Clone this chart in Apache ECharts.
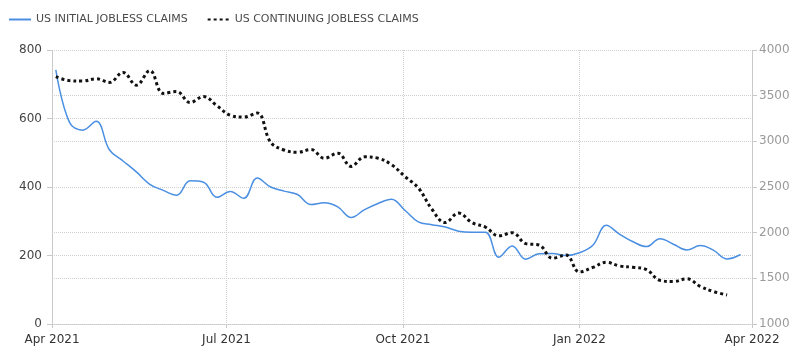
<!DOCTYPE html>
<html>
<head>
<meta charset="utf-8">
<script src="https://cdn.jsdelivr.net/npm/echarts@6/dist/echarts.min.js"></script>
<style>
html,body{margin:0;padding:0;background:#fff;}
#chart{width:800px;height:357px;}
</style>
</head>
<body>
<div id="chart"></div>
<script>
// Week-ending dates
var weekDates = [
 '2021-04-03','2021-04-10','2021-04-17','2021-04-24','2021-05-01','2021-05-08','2021-05-15','2021-05-22','2021-05-29',
 '2021-06-05','2021-06-12','2021-06-19','2021-06-26','2021-07-03','2021-07-10','2021-07-17','2021-07-24','2021-07-31',
 '2021-08-07','2021-08-14','2021-08-21','2021-08-28','2021-09-04','2021-09-11','2021-09-18','2021-09-25',
 '2021-10-02','2021-10-09','2021-10-16','2021-10-23','2021-10-30','2021-11-06','2021-11-13','2021-11-20','2021-11-27',
 '2021-12-04','2021-12-11','2021-12-18','2021-12-25','2022-01-01','2022-01-08','2022-01-15','2022-01-22','2022-01-29',
 '2022-02-05','2022-02-12','2022-02-19','2022-02-26','2022-03-05','2022-03-12','2022-03-19','2022-03-26'
];
// US initial jobless claims (thousands), left axis
var initialClaims = [
 742,590,566,592,508,476,444,408,390,
 376,418,414,370,387,367,426,400,388,
 378,349,354,342,311,334,352,364,
 332,298,290,283,271,268,268,195,228,
 189,205,206,200,208,230,288,262,240,
 226,249,233,216,229,215,190,203
];
// US continuing jobless claims (thousands), right axis
var continuingClaims = [
 3708,3665,3660,3685,3645,3755,3615,3775,3525,
 3545,3425,3490,3390,3285,3265,3310,2990,2905,
 2880,2910,2815,2870,2725,2830,2815,2745,
 2615,2490,2260,2110,2215,2110,2060,1965,2000,
 1880,1865,1720,1755,1570,1620,1675,1635,1621,
 1595,1478,1465,1495,1412,1355,1318
];
var tickDates = ['2021-04-01','2021-07-01','2021-10-01','2022-01-01','2022-04-01'];
var tickLabels = ['Apr 2021','Jul 2021','Oct 2021','Jan 2022','Apr 2022'];
var seriesNames = ['US INITIAL JOBLESS CLAIMS','US CONTINUING JOBLESS CLAIMS'];

function ts(s){ var p=s.split('-'); return Date.UTC(+p[0], +p[1]-1, +p[2]); }
var tickTs = tickDates.map(ts);
function pairs(vals){ return vals.map(function(v,i){ return [ts(weekDates[i]), v]; }); }

var grid = '#d0d0d0';
var chart = echarts.init(document.getElementById('chart'), null, {renderer:'canvas'});
chart.setOption({
  animation:false,
  textStyle:{fontFamily:'DejaVu Sans'},
  legend:{
    left:3, top:9, itemWidth:22, itemHeight:10, itemGap:19,
    itemStyle:{opacity:0},
    textStyle:{fontFamily:'DejaVu Sans', fontSize:11, color:'#4a4a4a'},
    data:seriesNames
  },
  grid:{left:52, right:48, top:50, bottom:33},
  xAxis:{
    type:'value', min:tickTs[0], max:tickTs[tickTs.length-1],
    axisLine:{show:true, lineStyle:{color:'#c8c8c8', type:'dotted'}},
    axisTick:{show:true, customValues:tickTs, length:4, lineStyle:{color:'#c8c8c8'}},
    splitLine:{show:true, lineStyle:{color:grid, type:'dotted'}},
    axisLabel:{
      customValues:tickTs, color:'#333', fontSize:12, margin:10, fontFamily:'DejaVu Sans',
      formatter:function(v){ var i=tickTs.indexOf(v); return i>=0?tickLabels[i]:''; },
      showMinLabel:true, showMaxLabel:true
    }
  },
  yAxis:[{
    type:'value', position:'left', min:0, max:800, interval:200,
    axisLine:{show:true, lineStyle:{color:'#c8c8c8', type:'dotted'}},
    axisTick:{show:true, length:5, lineStyle:{color:'#c8c8c8'}},
    splitLine:{show:true, lineStyle:{color:grid, type:'dotted'}},
    axisLabel:{color:'#444', fontSize:12, margin:10, fontFamily:'DejaVu Sans',
      formatter:function(v){ return String(v); }}
  },{
    type:'value', position:'right', min:1000, max:4000, interval:500,
    axisLine:{show:true, lineStyle:{color:'#c8c8c8', type:'dotted'}},
    axisTick:{show:true, length:5, lineStyle:{color:'#c8c8c8'}},
    splitLine:{show:true, lineStyle:{color:grid, type:'dotted'}},
    axisLabel:{color:'#9a9a9a', fontSize:12, margin:7, fontFamily:'DejaVu Sans',
      formatter:function(v){ return String(v); }}
  }],
  series:[{
    name:seriesNames[0], type:'line', yAxisIndex:0, data:pairs(initialClaims),
    smooth:0.4, showSymbol:false, symbol:'none',
    lineStyle:{color:'#4a8fe2', width:1.5}, itemStyle:{color:'#4a8fe2'}
  },{
    name:seriesNames[1], type:'line', yAxisIndex:1, data:pairs(continuingClaims),
    smooth:0.4, showSymbol:false, symbol:'none',
    lineStyle:{color:'#111', width:3, type:[3,3]}, itemStyle:{color:'#111'}
  }]
});
</script>
</body>
</html>
